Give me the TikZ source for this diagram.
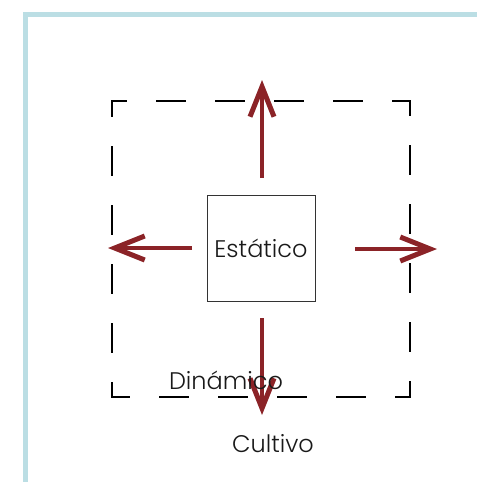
\documentclass[tikz,border=0pt]{standalone}
\usepackage{fontspec}
\setmainfont{Poppins}[UprightFont=* Light]
\usetikzlibrary{arrows.meta, positioning}
\definecolor{frameblue}{RGB}{187,222,228}
\definecolor{arrowred}{RGB}{139,35,39}

\begin{document}
\begin{tikzpicture}[x=1pt, y=-1pt,
    word/.style={font=\fontsize{24}{28}\selectfont, text=black!90, inner sep=0pt},
    push/.style={arrowred, line width=4pt, -{Straight Barb[length=30pt, width=24pt, line width=5pt]}}]
    \useasboundingbox (0,0) rectangle (477,482);

    % Frame
    \draw[frameblue, line width=5pt] (25,482) -- (25,14.5) -- (477,14.5);

    % Dynamic zone (dashed square, half dash at every corner)
    \foreach \a/\b in {112/101, 410/101, 410/397, 112/397}{
        \coordinate (c\a\b) at (\a,\b);
    }
    \foreach \p/\q in {c112101/c410101, c410101/c410397, c410397/c112397, c112397/c112101}{
        \draw[line width=1.5pt, line cap=rect, dash pattern=on 29pt off 30pt, dash phase=14.5pt] (\p) -- (\q);
    }

    % Static core
    \node[draw=black!80, line width=0.8pt, minimum width=108pt, minimum height=106pt, word] (static) at (261,248) {Estático};

    % Arrow ends
    \coordinate (upS) at (262,178);    \coordinate (upE) at (262,80);
    \coordinate (rightS) at (355,249); \coordinate (rightE) at (437,249);
    \coordinate (leftS) at (192,248);  \coordinate (leftE) at (108,248);
    \coordinate (downS) at (262,318);  \coordinate (downE) at (262,415);

    % Arrows
    \draw[push] (upS) -- (upE);
    \draw[push] (rightS) -- (rightE);
    \draw[push] (leftS) -- (leftE);
    \draw[push] (downS) -- (downE);

    % Labels
    \node[word] (dynamic) at (226,380) {Dinámico};
    \node[word] (crop) at (273,444) {Cultivo};

\end{tikzpicture}
\end{document}
